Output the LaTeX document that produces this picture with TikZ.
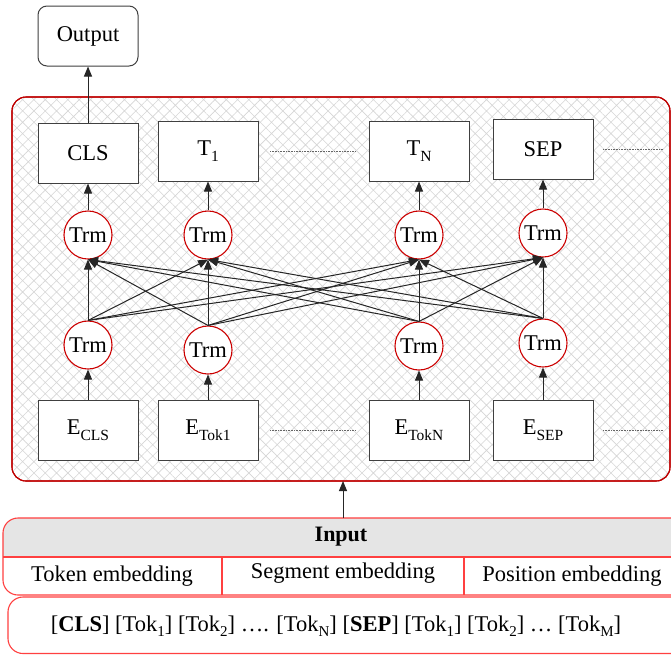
\documentclass[tikz,border=0pt]{standalone}
\usepackage{fontspec}
\setmainfont{Liberation Serif}
\usetikzlibrary{arrows.meta,patterns.meta}

% lowered subscript in upright text
\newcommand\sbs[1]{\raisebox{-0.28em}{\fontsize{15.5}{15.5}\selectfont #1}}
\newcommand\tsbs[1]{\raisebox{-0.25em}{\fontsize{15}{15}\selectfont #1}}

\begin{document}
\begin{tikzpicture}[x=1pt,y=-1pt,
  every node/.style={font=\fontsize{22.5}{26}\selectfont},
  box/.style={draw=black!75, fill=white, line width=1pt,
    minimum width=100pt, minimum height=60pt, inner sep=0pt},
  trm/.style={circle, draw=red!80!black, fill=white, line width=1.1pt,
    minimum size=48pt, inner sep=0pt},
  arr/.style={-{Triangle[length=10pt,width=8pt]}, line width=1pt, draw=black!85},
  dots/.style={draw=black!60, line width=0.8pt, dash pattern=on 1pt off 0.6pt},
  redline/.style={draw=red!75!black, line width=1.1pt},
]
\useasboundingbox[fill=white] (0,0) rectangle (671,654);

% encoder frame with cross-hatched background
\path[redline, rounded corners=14pt, preaction={fill=white},
  pattern={Hatch[angle=45,distance=8pt,line width=0.6pt]}, pattern color=black!16]
  (12,97) rectangle (670,481);
\draw[redline, rounded corners=14pt] (12,97) rectangle (670,481);
\coordinate (encBot) at (343,481);

% output
\node[box, rounded corners=9pt] (out) at (88,36) {Output};

% output token boxes
\node[box] (cls) at (88,153) {CLS};
\node[box] (t1)  at (208,151) {T\sbs{1}};
\node[box] (tn)  at (419,151) {T\sbs{N}};
\node[box] (sep) at (543,149) {SEP};

% upper transformer layer
\node[trm] (a1) at (88,235)  {Trm};
\node[trm] (a2) at (208,235) {Trm};
\node[trm] (a3) at (419,235) {Trm};
\node[trm] (a4) at (543,233) {Trm};

% lower transformer layer
\node[trm] (b1) at (88,345)  {Trm};
\node[trm] (b2) at (208,350) {Trm};
\node[trm] (b3) at (419,346) {Trm};
\node[trm] (b4) at (543,343) {Trm};

% input embedding boxes
\node[box] (e1) at (88,430)  {E\sbs{CLS}};
\node[box] (e2) at (208,430) {E\sbs{Tok1}};
\node[box] (e3) at (419,430) {E\sbs{TokN}};
\node[box] (e4) at (543,430) {E\sbs{SEP}};

% ellipsis rules
\coordinate (d1a) at (270,151); \coordinate (d1b) at (355,151);
\coordinate (d2a) at (603,149); \coordinate (d2b) at (663,149);
\coordinate (d3a) at (270,430); \coordinate (d3b) at (355,430);
\coordinate (d4a) at (603,430); \coordinate (d4b) at (663,430);
\draw[dots] (d1a) -- (d1b);
\draw[dots] (d2a) -- (d2b);
\draw[dots] (d3a) -- (d3b);
\draw[dots] (d4a) -- (d4b);

% connections
\foreach \i in {1,2,3,4} {
  \draw[arr] (e\i) -- (b\i);
  \foreach \j in {1,2,3,4} {
    \draw[arr] (b\i.north) -- (a\j.south);
  }
}
\draw[arr] (a1) -- (cls);
\draw[arr] (a2) -- (t1);
\draw[arr] (a3) -- (tn);
\draw[arr] (a4) -- (sep);
\draw[arr] (cls) -- (out);

% input block
\begin{scope}
  \clip[rounded corners=15pt] (3,518) rectangle (690,595);
  \fill[white] (0,518) rectangle (690,595);
  \fill[black!10] (0,518) rectangle (690,557);
\end{scope}
\draw[redline, draw=red!75, rounded corners=15pt] (3,518) rectangle (690,595);
\draw[redline, draw=red!75] (3,557) -- (690,557);
\draw[redline, draw=red!75] (222,557) -- (222,595);
\draw[redline, draw=red!75] (464,557) -- (464,595);
\coordinate (inTop) at (343,518);
\draw[arr] (inTop) -- (encBot);

\node[font=\fontsize{22}{26}\selectfont\bfseries] (inp) at (341,537) {Input};
\node (tok) at (112,576) {Token embedding};
\node (seg) at (343,573) {Segment embedding};
\node (pos) at (572,576) {Position embedding};

% token sequence
\draw[redline, draw=red!75, fill=white, rounded corners=15pt] (8,597) rectangle (690,653.5);
\node[font=\fontsize{22.5}{26}\selectfont] (seq) at (336,626)
  {[\textbf{CLS}] [Tok\tsbs{1}] [Tok\tsbs{2}] …. [Tok\tsbs{N}] [\textbf{SEP}] [Tok\tsbs{1}] [Tok\tsbs{2}] … [Tok\tsbs{M}]};
\end{tikzpicture}
\end{document}
